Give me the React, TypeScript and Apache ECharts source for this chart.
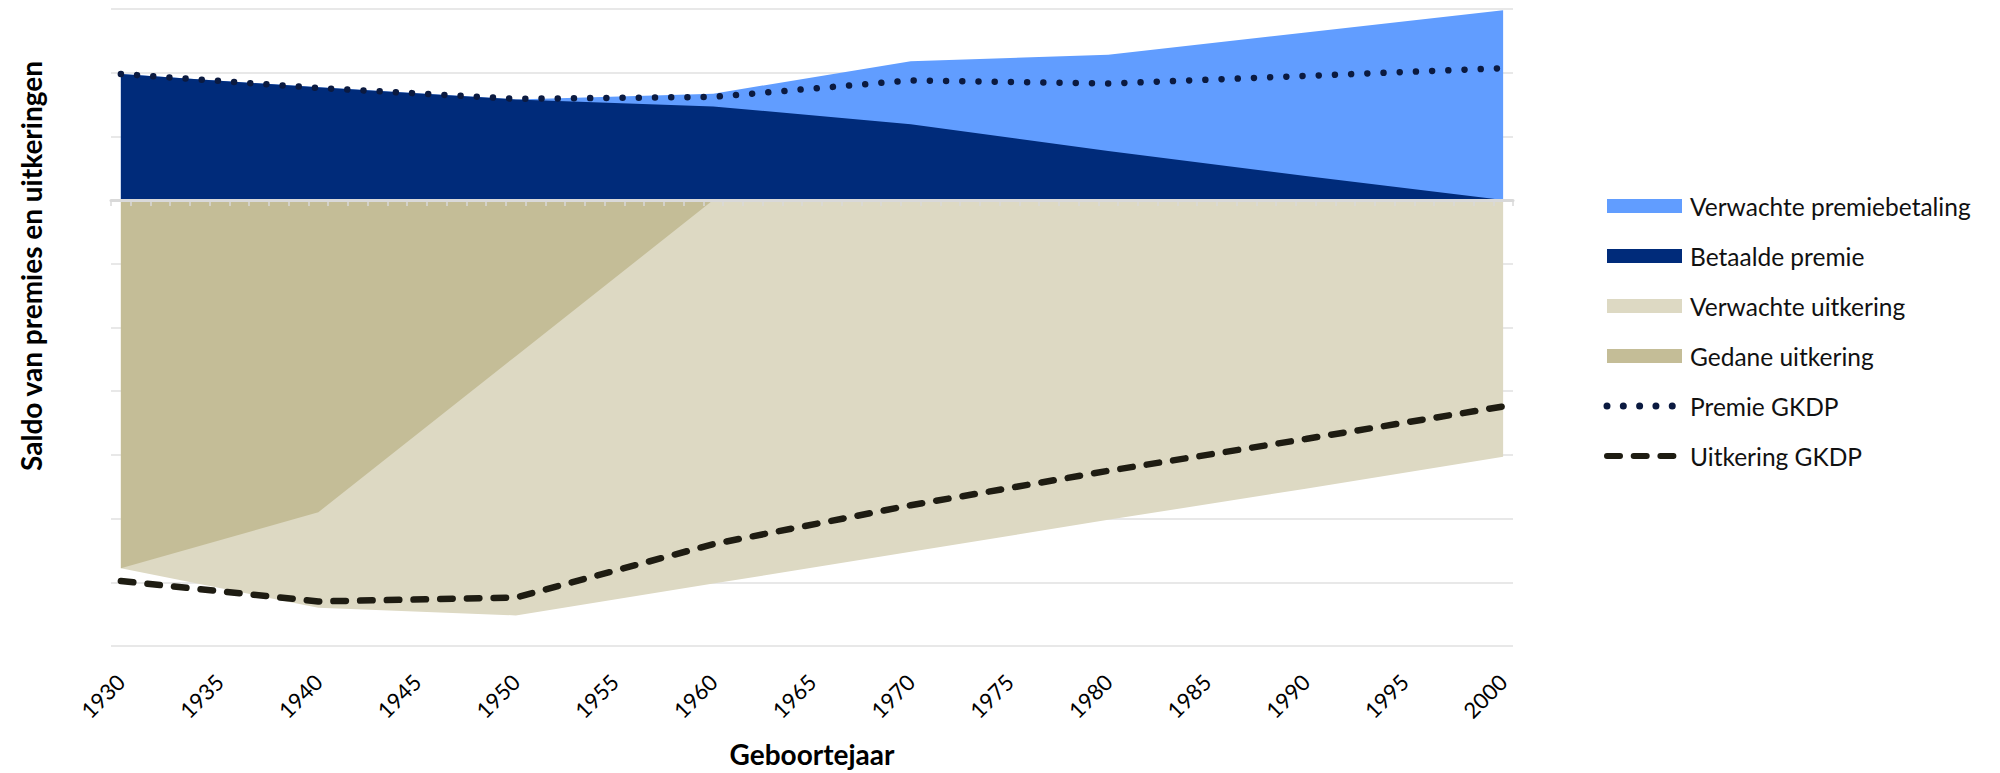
import React, { useEffect, useRef } from "react";
import * as echarts from "echarts";

// Categories: birth years on the axis (one per year)
const years: string[] = Array.from({ length: 71 }, (_, i) => String(1930 + i));
const keyYears = ["1930", "1940", "1950", "1960", "1970", "1980", "1990", "2000"];

// Series values (units = one gridline step)
const betaaldePremie = [1.98, 1.77, 1.58, 1.47, 1.19, 0.77, 0.38, 0.0];
const verwachtePremiebetaling = [0, 0, 0, 0.2, 0.99, 1.51, 2.25, 2.98];
const premieGKDP = [1.98, 1.76, 1.59, 1.62, 1.88, 1.83, 1.95, 2.07];
const gedaneUitkering = [-5.78, -4.9, -2.45, 0, 0, 0, 0, 0];
const verwachteUitkering = [0, -1.5, -4.07, -6.02, -5.52, -5.02, -4.53, -4.03];
const uitkeringGKDP = [-5.98, -6.3, -6.24, -5.4, -4.79, -4.25, -3.75, -3.24];

// Value axis range
const yMin = -7;
const yMax = 3;
const yInterval = 1;

const names = [
  "Verwachte premiebetaling",
  "Betaalde premie",
  "Verwachte uitkering",
  "Gedane uitkering",
  "Premie GKDP",
  "Uitkering GKDP",
];
const colors = ["#619DFF", "#002B7A", "#DDD9C3", "#C4BD97", "#0B1A40", "#1E1C12"];

const FONT = "Lato, 'Open Sans', sans-serif";

function pairs(vals: number[]) {
  return keyYears.map((y, i) => [y, vals[i]]);
}
function sum(a: number[], b: number[]) {
  return a.map((v, i) => +(v + b[i]).toFixed(4));
}

export default function App() {
  const ref = useRef<HTMLDivElement>(null);
  useEffect(() => {
    if (!ref.current) return;
    const chart = echarts.init(ref.current, undefined, { renderer: "svg", width: 2000, height: 773 });

    const premieTotal = sum(betaaldePremie, verwachtePremiebetaling);
    const uitkeringTotal = sum(gedaneUitkering, verwachteUitkering);

    const area = (name: string, color: string, vals: number[]) => ({
      name,
      type: "line",
      data: pairs(vals),
      symbol: "none",
      itemStyle: { color },
      lineStyle: { width: 0, color },
      areaStyle: { color, opacity: 1 },
      z: 2,
    });

    const legendX = 1607;
    const legendY0 = 206;
    const legendStep = 50;
    const legendGraphics: any[] = [];
    names.forEach((n, i) => {
      const cy = legendY0 + i * legendStep;
      if (i < 4) {
        legendGraphics.push({
          type: "rect",
          shape: { x: legendX, y: cy - 7, width: 75, height: 14 },
          style: { fill: colors[i] },
        });
      } else if (i === 4) {
        legendGraphics.push({
          type: "line",
          shape: { x1: legendX, y1: cy, x2: legendX + 66, y2: cy },
          style: { stroke: colors[i], lineWidth: 7, lineDash: [0.01, 16.3], lineCap: "round" },
        });
      } else {
        legendGraphics.push({
          type: "line",
          shape: { x1: legendX, y1: cy, x2: legendX + 67, y2: cy },
          style: { stroke: colors[i], lineWidth: 6, lineDash: [13, 13.7], lineCap: "round" },
        });
      }
      legendGraphics.push({
        type: "text",
        x: legendX + 83,
        y: cy,
        style: {
          text: n,
          fill: "#111",
          font: `24.5px ${FONT}`,
          verticalAlign: "middle",
          align: "left",
        },
      });
    });

    chart.setOption({
      animation: false,
      backgroundColor: "#fff",
      grid: { left: 111, top: 9, width: 1402, height: 644, containLabel: false },
      xAxis: [
        {
          type: "category",
          data: years,
          boundaryGap: true,
          position: "bottom",
          axisLine: { show: false, onZero: false },
          axisTick: { show: false },
          axisLabel: {
            interval: 4,
            rotate: 45,
            margin: 32,
            color: "#000",
            fontFamily: FONT,
            fontSize: 22,
          },
          splitLine: { show: false },
          name: "Geboortejaar",
          nameLocation: "middle",
          nameGap: 108,
          nameTextStyle: {
            color: "#000",
            fontFamily: FONT,
            fontSize: 28,
            fontWeight: "bold",
            verticalAlign: "middle",
          },
        },
        {
          type: "category",
          data: years,
          boundaryGap: true,
          position: "bottom",
          z: 5,
          axisLine: { show: true, onZero: true, lineStyle: { color: "#D9D9D9", width: 3 } },
          axisTick: { show: true, interval: 0, length: 6, lineStyle: { color: "#D9D9D9", width: 1.5 } },
          axisLabel: { show: false },
          splitLine: { show: false },
        },
      ],
      yAxis: {
        type: "value",
        min: yMin,
        max: yMax,
        interval: yInterval,
        axisLine: { show: false },
        axisTick: { show: false },
        axisLabel: { show: false },
        splitLine: { show: true, lineStyle: { color: "#E8E8E8", width: 2 } },
      },
      series: [
        area(names[0], colors[0], premieTotal),
        area(names[1], colors[1], betaaldePremie),
        area(names[2], colors[2], uitkeringTotal),
        area(names[3], colors[3], gedaneUitkering),
        {
          name: names[4],
          type: "line",
          data: pairs(premieGKDP),
          symbol: "none",
          itemStyle: { color: colors[4] },
          lineStyle: { color: colors[4], width: 6.5, type: [0.01, 16.2], cap: "round" },
          z: 3,
        },
        {
          name: names[5],
          type: "line",
          data: pairs(uitkeringGKDP),
          symbol: "none",
          itemStyle: { color: colors[5] },
          lineStyle: { color: colors[5], width: 6.5, type: [12.5, 14.2], cap: "round" },
          z: 3,
        },
      ],
      graphic: [
        {
          type: "text",
          x: 31,
          y: 266,
          rotation: Math.PI / 2,
          style: {
            text: "Saldo van premies en uitkeringen",
            fill: "#000",
            font: `bold 28px ${FONT}`,
            align: "center",
            verticalAlign: "middle",
          },
        },
        ...legendGraphics,
      ],
    });

    return () => chart.dispose();
  }, []);

  return (
    <div
      ref={ref}
      style={{ position: "absolute", left: 0, top: 0, width: 2000, height: 773 }}
    />
  );
}
